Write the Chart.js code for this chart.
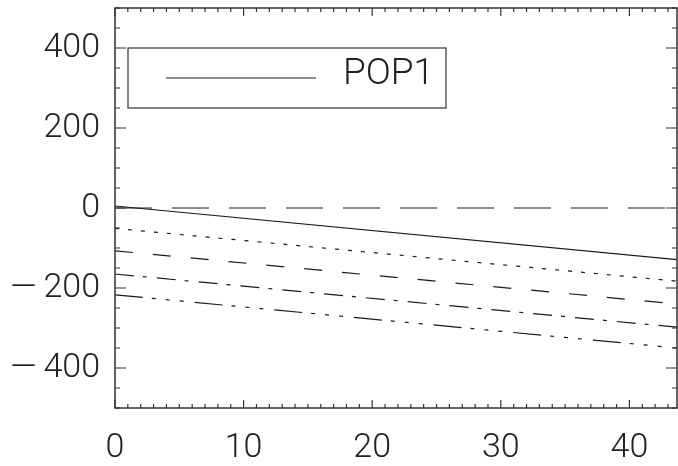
<!DOCTYPE html>
<html>
<head>
<meta charset="utf-8">
<script src="https://cdn.jsdelivr.net/npm/chart.js@4.4.0/dist/chart.umd.min.js"></script>
<style>
  html, body { margin: 0; padding: 0; background: #fff; }
  #wrap { width: 678px; height: 466px; }
</style>
</head>
<body>
<div id="wrap"><canvas id="mycanvas" width="678" height="466"></canvas></div>
<script>
// data
var xVals = [0, 43.7];
var pop1 = [5, -129];
var pop2 = [0, 0];
var pop3 = [-51, -183];
var pop4 = [-107, -240];
var pop5 = [-165, -298];
var pop6 = [-217, -350];
var xTicks = [0, 10, 20, 30, 40];
var yTicks = [-400, -200, 0, 200, 400];
var legendNames = ['POP1'];

function pts(ys) {
	var out = [];
	for (var i in xVals) out.push({x: xVals[i], y: ys[i]});
	return out;
}

var ink = '#1a1a1a';
var fontFam = 'Roboto, "DejaVu Sans", sans-serif';

var series = [
	{label: 'POP1', data: pop1, dash: []},
	{label: 'POP2', data: pop2, dash: [37, 20]},
	{label: 'POP3', data: pop3, dash: [4, 9]},
	{label: 'POP4', data: pop4, dash: [18, 20]},
	{label: 'POP5', data: pop5, dash: [19, 9, 4, 10]},
	{label: 'POP6', data: pop6, dash: [28, 9, 4, 10, 4, 10, 4, 11]}
];

var datasets = [];
for (var i in series) {
	datasets.push({
		label: series[i].label,
		data: pts(series[i].data),
		borderColor: ink,
		borderWidth: 1.2,
		borderDash: series[i].dash,
		pointRadius: 0,
		fill: false,
		tension: 0
	});
}

// IDL-style frame with inward ticks on all four sides, plus the boxed legend
var framePlugin = {
	id: 'frame',
	afterDatasetsDraw: function(chart) {
		var ctx = chart.ctx;
		var a = chart.chartArea;
		var xs = chart.scales.x, ys = chart.scales.y;
		ctx.save();
		ctx.strokeStyle = '#333';
		ctx.lineWidth = 1.5;
		ctx.setLineDash([]);
		ctx.strokeRect(a.left, a.top, a.right - a.left, a.bottom - a.top);

		ctx.lineWidth = 1.2;
		ctx.beginPath();
		for (var v = xs.min; v <= xs.max + 1e-9; v += 1) {
			var px = xs.getPixelForValue(v);
			var major = Math.abs(v % 10) < 1e-9;
			var len = major ? 8 : 4;
			ctx.moveTo(px, a.bottom); ctx.lineTo(px, a.bottom - len);
			ctx.moveTo(px, a.top); ctx.lineTo(px, a.top + len);
		}
		for (var w = ys.min; w <= ys.max + 1e-9; w += 50) {
			var py = ys.getPixelForValue(w);
			var maj = Math.abs(w % 200) < 1e-9;
			var l2 = maj ? 11 : 5;
			ctx.moveTo(a.left, py); ctx.lineTo(a.left + l2, py);
			ctx.moveTo(a.right, py); ctx.lineTo(a.right - l2, py);
		}
		ctx.stroke();

		// legend box
		var bx = a.left + 13, by = a.top + 40, bw = 318, bh = 60;
		ctx.strokeStyle = '#444';
		ctx.lineWidth = 1.3;
		ctx.strokeRect(bx, by, bw, bh);
		for (var k in legendNames) {
			var ds = chart.data.datasets[k];
			var ly = by + 30 + k * 40;
			ctx.strokeStyle = ds.borderColor;
			ctx.lineWidth = 1.2;
			ctx.setLineDash(ds.borderDash);
			ctx.beginPath();
			ctx.moveTo(bx + 38, ly);
			ctx.lineTo(bx + 188, ly);
			ctx.stroke();
			ctx.setLineDash([]);
			ctx.fillStyle = '#222';
			ctx.font = '300 37px ' + fontFam;
			ctx.textBaseline = 'middle';
			ctx.textAlign = 'left';
			ctx.fillText(legendNames[k], bx + 215, ly - 3);
		}
		ctx.restore();
	}
};

function fmt(v) {
	return v < 0 ? '\u2014\u2009' + Math.abs(v) : '' + v;
}

var ctx = document.getElementById('mycanvas');

var lineGraph = new Chart(ctx, {
	type: 'line',
	data: {datasets: datasets},
	options: {
		responsive: false,
		animation: false,
		events: [],
		layout: {padding: {top: 8, right: 1, left: 0, bottom: 0}},
		plugins: {legend: {display: false}, tooltip: {enabled: false}},
		scales: {
			x: {
				type: 'linear',
				min: 0,
				max: 43.7,
				afterBuildTicks: function(s) { s.ticks = xTicks.map(function(v) { return {value: v}; }); },
				afterFit: function(s) { s.height = 58; s.paddingLeft = 0; s.paddingRight = 0; },
				grid: {display: false, drawTicks: false},
				border: {display: false},
				ticks: {
					padding: 20,
					color: '#222',
					maxRotation: 0,
					font: {family: fontFam, size: 34, weight: 300},
					callback: fmt
				}
			},
			y: {
				type: 'linear',
				min: -500,
				max: 500,
				afterBuildTicks: function(s) { s.ticks = yTicks.map(function(v) { return {value: v}; }); },
				afterFit: function(s) { s.width = 115; s.paddingTop = 0; s.paddingBottom = 0; },
				grid: {display: false, drawTicks: false},
				border: {display: false},
				ticks: {
					padding: 15,
					color: '#222',
					font: {family: fontFam, size: 34, weight: 300},
					callback: fmt
				}
			}
		}
	},
	plugins: [framePlugin]
});
</script>
</body>
</html>
